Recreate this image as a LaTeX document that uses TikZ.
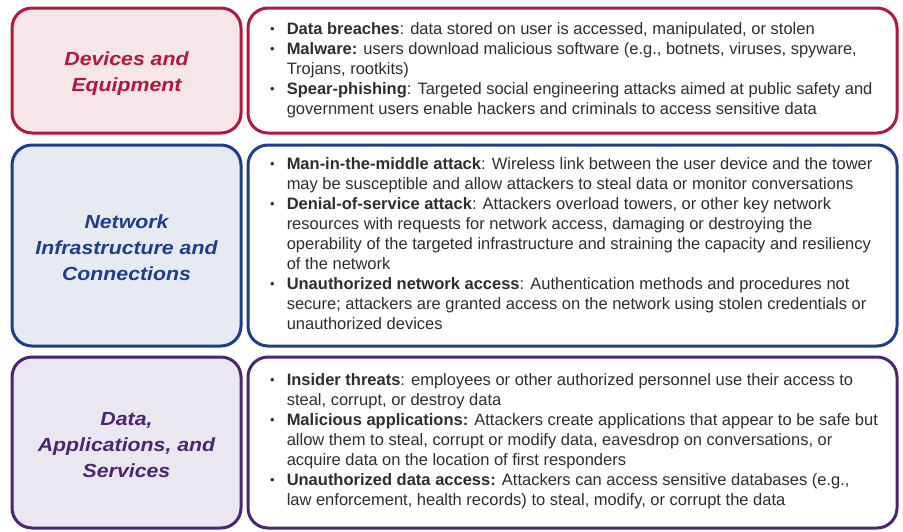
\documentclass[tikz,border=0pt]{standalone}
\usepackage{fontspec}
\setmainfont{Liberation Sans}
\newfontfamily\titlefont[FakeStretch=1.12]{Liberation Sans}
\definecolor{redB}{HTML}{B3173C}
\definecolor{redF}{HTML}{F6E6EA}
\definecolor{blueB}{HTML}{1C3E8C}
\definecolor{blueF}{HTML}{E6EAF3}
\definecolor{purB}{HTML}{4A2573}
\definecolor{purF}{HTML}{EAE7F0}
\definecolor{bodyC}{HTML}{2E2E2E}
\newcommand{\bul}{\raisebox{0.8pt}{\fontsize{13}{13}\selectfont\textbullet}}
\begin{document}
\begin{tikzpicture}[x=1pt,y=-1pt,
  catbox/.style={line width=3pt, rounded corners=20pt, minimum width=229pt, inner sep=0pt},
  descbox/.style={line width=3pt, rounded corners=20pt, fill=white, minimum width=649pt, inner sep=0pt},
  title/.style={align=center, font=\titlefont\bfseries\itshape\fontsize{19}{26}\selectfont},
  body/.style={anchor=west, inner sep=0pt, text=bodyC, font=\fontsize{16.5}{20}\selectfont}]
\useasboundingbox[fill=white] (0,0) rectangle (903,531);
% left category boxes
\node[catbox, draw=redB, fill=redF, minimum height=125pt] (c1) at (126.5,70.5) {};
\node[catbox, draw=blueB, fill=blueF, minimum height=201pt] (c2) at (126.5,245.5) {};
\node[catbox, draw=purB, fill=purF, minimum height=171pt] (c3) at (126.5,442.5) {};
\node[title, text=redB] (t1) at (126.5,74) {Devices and\\Equipment};
\node[title, text=blueB] (t2) at (126.5,248) {Network\\Infrastructure and\\Connections};
\node[title, text=purB] (t3) at (126.5,445) {Data,\\Applications, and\\Services};
% right description boxes
\node[descbox, draw=redB, minimum height=125pt] (d1) at (572.5,70.5) {};
\node[descbox, draw=blueB, minimum height=201pt] (d2) at (572.5,245.5) {};
\node[descbox, draw=purB, minimum height=171pt] (d3) at (572.5,442.5) {};
\node[body] (b1) at (270,70.5) {\begin{tabular}{@{}l@{\hspace{12pt}}l@{}}
\bul & \textbf{Data breaches}: data stored on user is accessed, manipulated, or stolen\\
\bul & \textbf{Malware:} users download malicious software (e.g., botnets, viruses, spyware,\\
 & Trojans, rootkits)\\
\bul & \textbf{Spear-phishing}: Targeted social engineering attacks aimed at public safety and\\
 & government users enable hackers and criminals to access sensitive data
\end{tabular}};
\node[body] (b2) at (270,245.5) {\begin{tabular}{@{}l@{\hspace{12pt}}l@{}}
\bul & \textbf{Man-in-the-middle attack}: Wireless link between the user device and the tower\\
 & may be susceptible and allow attackers to steal data or monitor conversations\\
\bul & \textbf{Denial-of-service attack}: Attackers overload towers, or other key network\\
 & resources with requests for network access, damaging or destroying the\\
 & operability of the targeted infrastructure and straining the capacity and resiliency\\
 & of the network\\
\bul & \textbf{Unauthorized network access}: Authentication methods and procedures not\\
 & secure; attackers are granted access on the network using stolen credentials or\\
 & unauthorized devices
\end{tabular}};
\node[body] (b3) at (270,441.5) {\begin{tabular}{@{}l@{\hspace{12pt}}l@{}}
\bul & \textbf{Insider threats}: employees or other authorized personnel use their access to\\
 & steal, corrupt, or destroy data\\
\bul & \textbf{Malicious applications:} Attackers create applications that appear to be safe but\\
 & allow them to steal, corrupt or modify data, eavesdrop on conversations, or\\
 & acquire data on the location of first responders\\
\bul & \textbf{Unauthorized data access:} Attackers can access sensitive databases (e.g.,\\
 & law enforcement, health records) to steal, modify, or corrupt the data
\end{tabular}};
\end{tikzpicture}
\end{document}
